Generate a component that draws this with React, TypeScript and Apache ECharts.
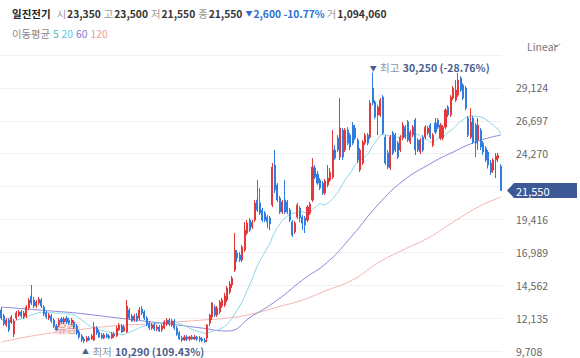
import React, { useEffect, useRef } from 'react';
import * as echarts from 'echarts';

const CATEGORIES = Array.from({ length: 200 }, (_, i) => `D${i + 1}`);

const OPEN = [
  12730, 12290, 11630, 11990, 11850, 10960, 12140, 12360, 12590, 12220,
  12290, 12880, 13770, 13470, 13030, 13250, 13470, 12950, 12510, 12140,
  12290, 11990, 11550, 11630, 12070, 11850, 12140, 11990, 11770, 11850,
  11550, 11110, 10820, 10590, 10450, 10670, 10590, 10520, 11400, 11110,
  10890, 10670, 10890, 10820, 10670, 10960, 10820, 11260, 11550, 11180,
  11110, 12730, 12290, 11990, 12290, 12140, 12810, 12590, 12140, 11770,
  11400, 11630, 11330, 11480, 11260, 11400, 11700, 11990, 11630, 11920,
  11400, 11040, 10670, 10520, 10740, 10590, 10740, 10590, 10740, 10670,
  10590, 10520, 10670, 11770, 12220, 12950, 12360, 12590, 13030, 13100,
  13470, 14060, 14580, 15680, 16940, 16790, 16420, 17160, 18410, 19370,
  18860, 19370, 20850, 20630, 20110, 19890, 19590, 19520, 20480, 23430,
  21950, 20990, 19960, 20850, 20700, 20110, 19220, 18490, 19590, 20260,
  19590, 19520, 19370, 19890, 20850, 23210, 22760, 22320, 22100, 21360,
  21950, 22320, 22540, 24540, 25420, 24020, 26010, 24540, 26010, 25640,
  26380, 26160, 25270, 23060, 23580, 25050, 25640, 25490, 29110, 28080,
  27120, 27120, 28450, 25490, 24310, 23210, 25790, 25640, 25050, 24540,
  25420, 26230, 26600, 25130, 25640, 26750, 25270, 24390, 25490, 25490,
  25790, 26380, 24900, 26530, 26750, 25420, 25420, 26230, 27710, 27120,
  28370, 28220, 28590, 29850, 29330, 29110, 26900, 25490, 26900, 26380,
  25270, 26010, 25050, 24680, 24390, 23580, 23060, 23800, 23940, 23350,
];

const CLOSE = [
  12140, 11700, 11990, 11260, 12220, 11920, 12510, 12590, 12290, 12510,
  12950, 13470, 13250, 13030, 13320, 13540, 13030, 12440, 12220, 12360,
  11920, 11550, 11260, 11990, 11850, 12070, 11850, 11770, 11990, 11480,
  11040, 10740, 10520, 10450, 10670, 10520, 10820, 11480, 11040, 10740,
  10670, 10890, 10740, 10670, 10960, 10820, 11400, 11630, 11110, 11480,
  13030, 12140, 11920, 12290, 11990, 12730, 12510, 12140, 11700, 11400,
  11630, 11330, 11480, 11180, 11550, 11850, 11990, 11700, 11920, 11400,
  10960, 10590, 10520, 10740, 10590, 10740, 10590, 10740, 10590, 10520,
  10450, 10370, 11630, 12360, 13250, 12360, 12880, 13320, 13470, 13770,
  14360, 14650, 15090, 17160, 16570, 16420, 17380, 18630, 19150, 18630,
  19220, 20630, 20110, 19890, 19370, 19370, 19220, 19080, 23280, 21590,
  20850, 19960, 20700, 19960, 19960, 19370, 18260, 19150, 20480, 19520,
  19150, 19000, 20330, 20550, 23280, 22540, 22100, 21730, 21360, 22250,
  22470, 22910, 24540, 23940, 24540, 26160, 24020, 26010, 25050, 24760,
  25050, 25420, 23800, 24540, 25130, 25640, 25050, 28000, 28000, 26970,
  27710, 28220, 25790, 23580, 23280, 25490, 24310, 24540, 24020, 25490,
  26380, 25490, 25270, 25860, 26230, 24540, 24540, 25270, 24540, 26230,
  26160, 25490, 25640, 25860, 26230, 26380, 26230, 27490, 27120, 28450,
  29110, 28960, 29700, 28960, 28370, 27630, 25640, 26600, 25130, 25050,
  26380, 24760, 24390, 23800, 23430, 22910, 23800, 24090, 24150, 21550,
];

const LOW = [
  11990, 11550, 11480, 11110, 11700, 10740, 11990, 12220, 12140, 12070,
  12140, 12730, 13100, 12880, 12880, 13100, 12880, 12290, 12070, 11990,
  11770, 11400, 11180, 11480, 11700, 11700, 11700, 11630, 11630, 11330,
  10890, 10590, 10370, 10290, 10370, 10450, 10520, 10450, 10890, 10670,
  10590, 10590, 10670, 10590, 10590, 10670, 10740, 11180, 11040, 11110,
  11040, 11990, 11850, 11850, 11850, 11990, 12360, 11990, 11550, 11260,
  11260, 11180, 11180, 11110, 11110, 11330, 11550, 11550, 11480, 11260,
  10820, 10520, 10370, 10450, 10450, 10450, 10520, 10520, 10450, 10370,
  10370, 10330, 10370, 11550, 11990, 12220, 12220, 12440, 12880, 12950,
  13320, 13910, 14360, 15540, 16270, 16270, 16270, 17010, 18260, 18490,
  18710, 19220, 19960, 19740, 19220, 19220, 18780, 18630, 20330, 21360,
  20700, 19810, 19810, 19810, 19810, 19220, 18120, 18340, 19450, 19220,
  18630, 18410, 19220, 19740, 20700, 22400, 21950, 21590, 21220, 21220,
  21800, 22170, 22400, 23800, 24390, 23800, 23800, 24390, 24900, 24540,
  24900, 25270, 23580, 22910, 23430, 24900, 24900, 25350, 27850, 26820,
  25640, 26970, 25640, 23430, 23130, 23060, 24170, 24390, 23870, 24390,
  25270, 25350, 25130, 24980, 25490, 24170, 24390, 24240, 24390, 25350,
  25640, 25350, 24760, 25720, 26080, 25270, 25270, 26080, 26970, 26970,
  28220, 28080, 28450, 28820, 28220, 27490, 25490, 25350, 24980, 24020,
  24540, 24540, 24170, 23650, 23170, 22690, 22840, 22470, 23650, 21550,
];

const HIGH = [
  12950, 12440, 12140, 12140, 12360, 12070, 12660, 12730, 12730, 12660,
  13100, 13620, 14580, 13690, 13470, 13690, 13620, 13100, 12660, 12510,
  12440, 12140, 11700, 12140, 12220, 12220, 12290, 12140, 12140, 11990,
  11700, 11260, 10960, 10740, 10820, 10820, 10960, 11850, 11550, 11260,
  11040, 11040, 11040, 10960, 11110, 11110, 11550, 11770, 11700, 11630,
  13470, 12880, 12440, 12440, 12510, 12950, 13030, 12730, 12290, 11920,
  11770, 11770, 11630, 11630, 11700, 11990, 12140, 12140, 12070, 12070,
  11550, 11180, 10820, 10890, 10890, 10820, 10890, 10890, 10820, 10820,
  10740, 10670, 11700, 12440, 13320, 13100, 13030, 13470, 13620, 13990,
  14500, 14870, 15240, 18410, 17160, 17010, 17530, 19220, 19370, 19520,
  19370, 20850, 22320, 21730, 20260, 20040, 19740, 19670, 23580, 24540,
  22100, 21140, 20850, 22320, 20850, 20260, 19370, 19300, 20630, 20400,
  19740, 19670, 20480, 20700, 23940, 23430, 22990, 22470, 22250, 22400,
  23430, 23210, 26010, 24900, 25640, 28370, 26160, 26160, 26230, 25790,
  26600, 26380, 25420, 24680, 25270, 25790, 25790, 28220, 30250, 28220,
  27850, 28370, 28590, 25640, 24540, 25640, 25940, 25790, 25200, 25640,
  26600, 26380, 26750, 26010, 26380, 26900, 25420, 25420, 25640, 26380,
  26310, 26530, 25790, 26900, 26900, 26530, 26380, 27630, 27850, 28590,
  29260, 29700, 30220, 29990, 29480, 29260, 27040, 27630, 27040, 26530,
  26900, 26160, 25200, 24830, 24540, 23800, 23940, 24310, 24320, 23500,
];

// moving averages 60 / 120 at these candles
const MA_SAMPLE_INDEX = [0, 10, 20, 30, 40, 50, 60, 70, 80, 90, 100, 110, 120, 130, 140, 150, 160, 170, 180, 190, 199];
const MA60_SAMPLES = [12950, 12810, 12660, 12510, 12290, 12070, 11850, 11630, 11400, 11180, 12290, 13470, 14950, 16270, 18260, 20480, 22250, 23430, 24390, 25200, 25640];
const MA120_SAMPLES = [10370, 10740, 11040, 11260, 11480, 11630, 11700, 11850, 11990, 12140, 12440, 12950, 13470, 14210, 14950, 16200, 17160, 18040, 19220, 20330, 21070];

const Y_INTERVAL = 2427;
const Y_MIN = 9708;
const Y_MAX = 31551;
const HIDDEN_TICKS = [21843, 31551];

const HIGHEST = 30250;
const LOWEST = 10290;
const LAST_CLOSE = 21550;

const FONT = '"Noto Sans CJK KR", "Noto Sans", sans-serif';
const UP = '#e5383b';
const DOWN = '#2f7de1';

function fmt(v: number) {
  return String(Math.round(v)).replace(/\B(?=(\d{3})+(?!\d))/g, ',');
}

function movingAverage(values: number[], n: number) {
  return values.map((_, i) => {
    const s = Math.max(0, i - n + 1);
    const win = values.slice(s, i + 1);
    return Math.round(win.reduce((a, b) => a + b, 0) / win.length);
  });
}

export default function App() {
  const ref = useRef<HTMLDivElement>(null);
  useEffect(() => {
    const chart = echarts.init(ref.current!, null, { renderer: 'svg' });
    const candles = OPEN.map((o, i) => [o, CLOSE[i], LOW[i], HIGH[i]]);
    const sparse = (samples: number[]) => {
      const arr: (number | null)[] = CATEGORIES.map(() => null);
      MA_SAMPLE_INDEX.forEach((k, j) => (arr[k] = samples[j]));
      return arr;
    };
    chart.setOption({
      animation: false,
      grid: { left: 0, right: 78, top: 55, bottom: 7 },
      xAxis: {
        type: 'category',
        data: CATEGORIES,
        boundaryGap: true,
        axisLine: { show: false },
        axisTick: { show: false },
        axisLabel: { show: false },
        splitLine: { show: false },
      },
      yAxis: {
        type: 'value',
        position: 'right',
        min: Y_MIN,
        max: Y_MAX,
        interval: Y_INTERVAL,
        axisLine: { show: false },
        axisTick: { show: false },
        splitLine: { lineStyle: { color: '#f1f1f1', width: 1 } },
        axisLabel: {
          margin: 14,
          color: '#666',
          fontSize: 10.5,
          fontFamily: FONT,
          formatter: (v: number) => (HIDDEN_TICKS.includes(v) ? '' : fmt(v)),
        },
      },
      series: [
        {
          type: 'line',
          data: sparse(MA120_SAMPLES),
          connectNulls: true,
          smooth: 0.5,
          showSymbol: false,
          lineStyle: { color: '#f3b5b1', width: 1 },
          z: 1,
        },
        {
          type: 'line',
          data: sparse(MA60_SAMPLES),
          connectNulls: true,
          smooth: 0.5,
          showSymbol: false,
          lineStyle: { color: '#8f85da', width: 1 },
          z: 1,
        },
        {
          type: 'line',
          data: movingAverage(CLOSE, 20),
          smooth: 0.3,
          showSymbol: false,
          lineStyle: { color: '#86d6e6', width: 1 },
          z: 1,
        },
        {
          type: 'candlestick',
          data: candles,
          barWidth: '62%',
          itemStyle: { color: UP, color0: DOWN, borderColor: UP, borderColor0: DOWN, borderWidth: 1 },
          z: 2,
        },
      ],
    });

    const iMax = HIGH.indexOf(HIGHEST);
    const iMin = LOW.indexOf(LOWEST);
    const pMax = chart.convertToPixel({ gridIndex: 0 }, [CATEGORIES[iMax], HIGHEST]) as number[];
    const pMin = chart.convertToPixel({ gridIndex: 0 }, [CATEGORIES[iMin], LOWEST]) as number[];
    const pLast = chart.convertToPixel({ gridIndex: 0 }, [CATEGORIES[CATEGORIES.length - 1], LAST_CLOSE]) as number[];
    const pEvent = chart.convertToPixel({ gridIndex: 0 }, [CATEGORIES[25], 11400]) as number[];
    const ly = pLast[1];
    const pctMax = ((LAST_CLOSE - HIGHEST) / HIGHEST) * 100;
    const pctMin = ((LAST_CLOSE - LOWEST) / LOWEST) * 100;

    const FS = 10.3;
    const t = (x: number, y: number, text: string, st: any) => ({
      type: 'text',
      x,
      y,
      style: { text, verticalAlign: 'middle', ...st },
    });
    const headerRich = {
      name: { fill: '#222', fontSize: 10.5, fontWeight: 700, fontFamily: FONT, padding: [0, 6, 0, 0] },
      lab: { fill: '#9a9a9a', fontSize: FS, fontFamily: FONT, padding: [0, 1, 0, 0] },
      num: { fill: '#333', fontSize: FS, fontWeight: 600, fontFamily: FONT, padding: [0, 3, 0, 0] },
      tri: { fill: '#2d6fd2', fontSize: 7, fontFamily: FONT, padding: [0, 1, 0, 0] },
      blue: { fill: '#2d6fd2', fontSize: FS, fontWeight: 600, fontFamily: FONT, padding: [0, 2, 0, 0] },
    };
    const headerText =
      '{name|일진전기}{lab|시}{num|23,350}{lab|고}{num|23,500}{lab|저}{num|21,550}{lab|종}{num|21,550}' +
      '{tri|▼}{blue|2,600 -10.77%}{lab|거}{num|1,094,060}';
    const maRich = {
      g: { fill: '#888', fontSize: FS, fontFamily: FONT, padding: [0, 3, 0, 0] },
      a: { fill: '#4cc3a5', fontSize: FS, fontFamily: FONT, padding: [0, 3, 0, 0] },
      b: { fill: '#5fc4de', fontSize: FS, fontFamily: FONT, padding: [0, 3, 0, 0] },
      c: { fill: '#7f74d2', fontSize: FS, fontFamily: FONT, padding: [0, 3, 0, 0] },
      d: { fill: '#e89c9c', fontSize: FS, fontFamily: FONT },
    };

    chart.setOption({
      graphic: [
        { type: 'text', x: 12, y: 13, style: { text: headerText, rich: headerRich, verticalAlign: 'middle' } },
        { type: 'text', x: 12, y: 33.5, style: { text: '{g|이동평균}{a|5}{b|20}{c|60}{d|120}', rich: maRich, verticalAlign: 'middle' } },
        t(527, 46, 'Linear', { fill: '#777', fontSize: 10.5, fontFamily: FONT }),
        {
          type: 'polyline',
          shape: { points: [[553, 43.5], [556.5, 47], [560, 43.5]] },
          style: { stroke: '#888', lineWidth: 1, fill: 'none' },
        },
        {
          type: 'text',
          x: pMax[0] - 3,
          y: pMax[1] - 5,
          style: {
            text: `{a|▼} {b|최고} {c|${fmt(HIGHEST)} (${pctMax.toFixed(2)}%)}`,
            verticalAlign: 'middle',
            rich: {
              a: { fill: '#4b5d8c', fontSize: 7, fontFamily: FONT },
              b: { fill: '#8b93aa', fontSize: 10.5, fontFamily: FONT },
              c: { fill: '#4b5d8c', fontSize: 10.5, fontWeight: 600, fontFamily: FONT },
            },
          },
        },
        {
          type: 'text',
          x: pMin[0] - 2,
          y: pMin[1] + 8,
          style: {
            text: `{a|▲} {b|최저} {c|${fmt(LOWEST)} (${pctMin.toFixed(2)}%)}`,
            verticalAlign: 'middle',
            rich: {
              a: { fill: '#4b5d8c', fontSize: 7, fontFamily: FONT },
              b: { fill: '#8b93aa', fontSize: 10.5, fontFamily: FONT },
              c: { fill: '#4b5d8c', fontSize: 10.5, fontWeight: 600, fontFamily: FONT },
            },
          },
        },
        {
          type: 'text',
          x: pEvent[0] - 10,
          y: pEvent[1],
          style: {
            text: '유증',
            verticalAlign: 'middle',
            fill: '#d99a96',
            fontSize: 11,
            fontFamily: FONT,
            backgroundColor: 'rgba(250,225,222,0.85)',
            padding: [1, 3],
            borderRadius: 3,
          },
        },
        {
          type: 'polygon',
          shape: {
            points: [
              [507, ly],
              [514, ly - 7.5],
              [577, ly - 7.5],
              [577, ly + 7.5],
              [514, ly + 7.5],
            ],
          },
          style: { fill: '#3c5897' },
        },
        t(516, ly, fmt(LAST_CLOSE), { fill: '#fff', fontSize: 11, fontFamily: FONT }),
      ],
    });
    return () => chart.dispose();
  }, []);
  return <div ref={ref} style={{ position: 'absolute', left: 0, top: 0, width: 580, height: 358 }} />;
}
